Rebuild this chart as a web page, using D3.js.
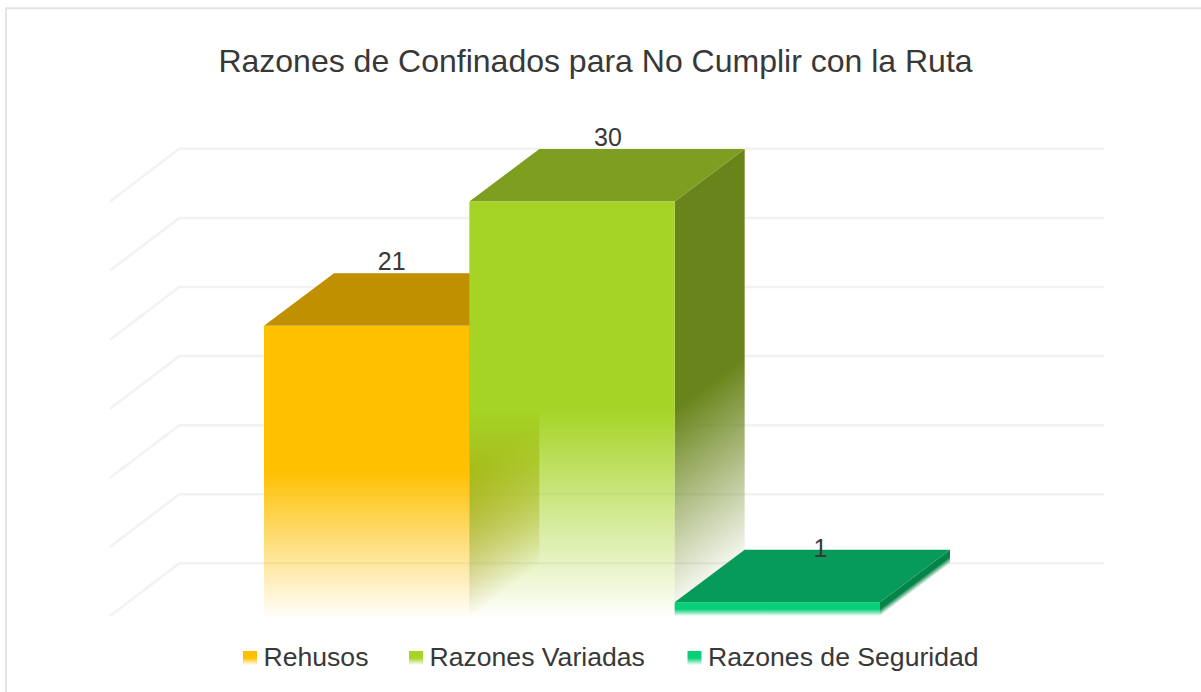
<!DOCTYPE html>
<html lang="es">
<head>
<meta charset="utf-8">
<title>Razones de Confinados</title>
<script src="https://cdn.jsdelivr.net/npm/d3@7/dist/d3.min.js"></script>
<style>
  html, body {margin: 0; background: #fff; overflow: hidden;}
  text {font-family: "Liberation Sans", Arial, sans-serif; fill: #383838;}
</style>
</head>
<body>
<svg id="chart" width="1201" height="692"></svg>
<script>
var title = 'Razones de Confinados para No Cumplir con la Ruta';
var categories = ['Rehusos', 'Razones Variadas', 'Razones de Seguridad'];
var values = [21, 30, 1];
var frontColors = ['#ffc000', '#a5d426', '#07cf78'];
var topColors = ['#c09000', '#7e9e1f', '#069a5b'];
var sideColors = ['#ad8200', '#69841a', '#058447'];
var tickValues = [0, 5, 10, 15, 20, 25, 30];

// the 3d box: front plane plus an offset to the back wall
var depthX = 70, depthY = 52.5;
var floorY = 616;
var skew = -Math.atan2(depthY, depthX) * 180 / Math.PI;

var x = d3.scaleBand().domain(categories).range([264, 880]).padding(0);
var y = d3.scaleLinear().domain([0, 30]).range([floorY, 201.5]);
var labelShiftX = [-10, 1, 8];
var labelShiftY = [0, 0, 10];

var svg = d3.select('#chart');
var defs = svg.append('defs');

function fade(id, color) {
    var g = defs.append('linearGradient').attr('id', id)
        .attr('x1', 0).attr('y1', 0).attr('x2', 0).attr('y2', 1);
    g.append('stop').attr('offset', '50%').attr('stop-color', color).attr('stop-opacity', 1);
    g.append('stop').attr('offset', '100%').attr('stop-color', color).attr('stop-opacity', 0.02);
}
categories.forEach(function(c, i) {
    fade('front' + i, frontColors[i]);
    fade('side' + i, sideColors[i]);
});

// chart frame, open on the right
svg.append('path')
    .attr('d', 'M6,692V8.3H1201')
    .attr('fill', 'none').attr('stroke', '#e4e4e4').attr('stroke-width', 2);

svg.append('text').attr('x', 595.5).attr('y', 72)
    .attr('text-anchor', 'middle').attr('font-size', 32).text(title);

// back wall gridlines from the axis
var wallLeft = 110 + depthX, wallRight = 1104;
var axis = d3.axisLeft(y).tickValues(tickValues).tickSize(-(wallRight - wallLeft)).tickFormat('');
var axisG = svg.append('g')
    .attr('transform', 'translate(' + wallLeft + ',' + (-depthY - 0.7) + ')')
    .call(axis);
axisG.select('.domain').remove();
axisG.selectAll('line').attr('stroke', '#f2f2f2').attr('stroke-width', 2.5);

svg.append('g').selectAll('line').data(tickValues).enter().append('line')
    .attr('x1', 110).attr('x2', wallLeft)
    .attr('y1', function(d) { return y(d); })
    .attr('y2', function(d) { return y(d) - depthY - 0.7; })
    .attr('stroke', '#f2f2f2').attr('stroke-width', 2.5);

// bars, drawn left to right so each one sits over the last
var bars = svg.append('g').selectAll('g').data(categories).enter().append('g');

bars.append('rect')
    .attr('transform', function(d, i) {
        return 'translate(' + (x(d) + x.bandwidth()) + ',' + y(values[i]) + ') skewY(' + skew + ')';
    })
    .attr('width', depthX)
    .attr('height', function(d, i) { return floorY - y(values[i]); })
    .attr('fill', function(d, i) { return 'url(#side' + i + ')'; });

bars.append('polygon')
    .attr('points', function(d, i) {
        var l = x(d), r = l + x.bandwidth(), t = y(values[i]);
        return [[l, t], [r, t], [r + depthX, t - depthY], [l + depthX, t - depthY]].join(' ');
    })
    .attr('fill', function(d, i) { return topColors[i]; });

bars.append('rect')
    .attr('x', function(d) { return x(d); })
    .attr('y', function(d, i) { return y(values[i]); })
    .attr('width', x.bandwidth())
    .attr('height', function(d, i) { return floorY - y(values[i]); })
    .attr('fill', function(d, i) { return 'url(#front' + i + ')'; });

// data labels sit over the top faces
svg.append('g').selectAll('text').data(categories).enter().append('text')
    .attr('x', function(d, i) { return x(d) + x.bandwidth() / 2 + depthX / 2 + labelShiftX[i]; })
    .attr('y', function(d, i) { return y(values[i]) - depthY - 3 + labelShiftY[i]; })
    .attr('text-anchor', 'middle').attr('font-size', 25)
    .text(function(d, i) { return values[i]; });

// legend
var legendX = [243, 409, 687.5];
var legend = svg.append('g').selectAll('g').data(categories).enter().append('g')
    .attr('transform', function(d, i) { return 'translate(' + legendX[i] + ',651)'; });
legend.append('rect').attr('width', 14).attr('height', 14)
    .attr('fill', function(d, i) { return 'url(#front' + i + ')'; });
legend.append('text').attr('x', 20.5).attr('y', 15).attr('font-size', 26.6)
    .text(function(d) { return d; });
</script>
</body>
</html>
